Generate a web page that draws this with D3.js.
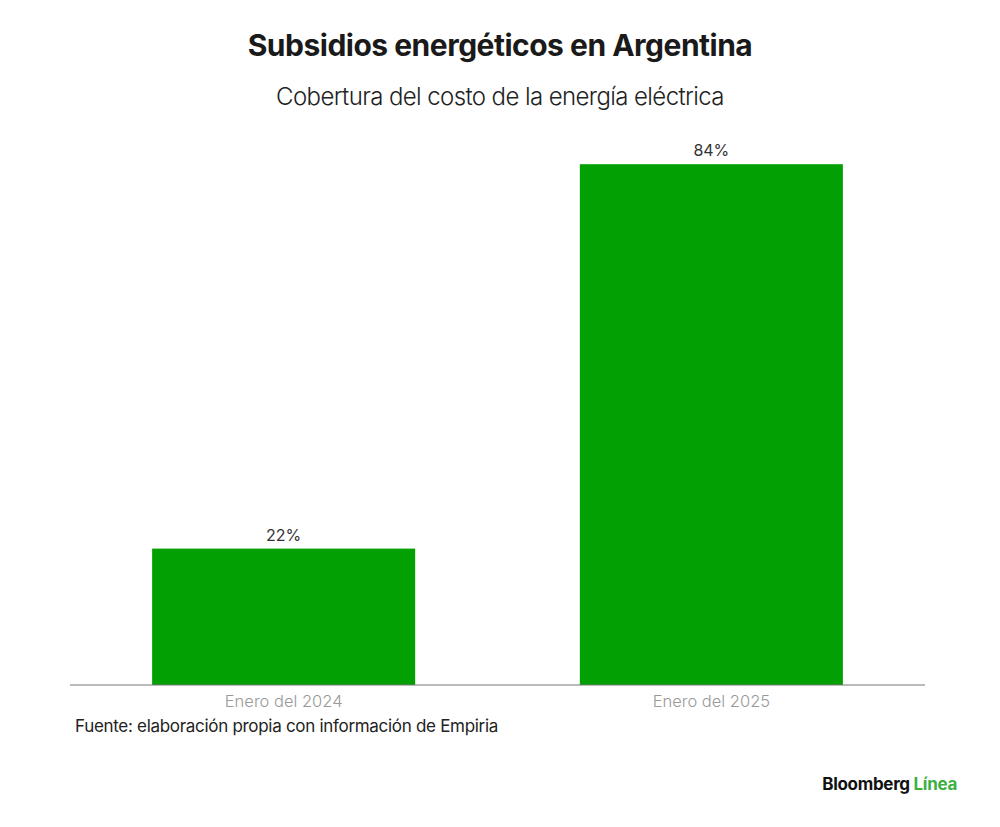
<!DOCTYPE html>
<html>
<head>
<meta charset="utf-8">
<script src="https://cdn.jsdelivr.net/npm/d3@7"></script>
<style>
  body { margin: 0; background: #fff; }
  text { font-family: Inter, "Noto Sans", sans-serif; }
</style>
</head>
<body>
<div id="chart"></div>
<script>
// Chart data
const categories = ["Enero del 2024", "Enero del 2025"];
const values = [22, 84];
const valueLabels = ["22%", "84%"];

const width = 1000, height = 827;
const svg = d3.select("#chart")
  .append("svg")
  .attr("width", width)
  .attr("height", height);

const baseY = 685;

// Scales
const x = d3.scaleBand()
  .domain(categories)
  .range([70, 925])
  .paddingInner(0.385)
  .paddingOuter(0.192);

const y = d3.scaleLinear()
  .domain([0, 100])
  .range([baseY, baseY - 620]);

// Title + subtitle
svg.append("text")
  .attr("x", 500).attr("y", 56)
  .attr("text-anchor", "middle")
  .style("font-size", "30px")
  .style("font-weight", 700)
  .style("letter-spacing", "-0.5px")
  .attr("fill", "#1a1a1a")
  .text("Subsidios energéticos en Argentina");

svg.append("text")
  .attr("x", 500).attr("y", 105)
  .attr("text-anchor", "middle")
  .style("font-size", "24px")
  .style("font-weight", 300)
  .style("letter-spacing", "-0.6px")
  .attr("fill", "#222")
  .text("Cobertura del costo de la energía eléctrica");

// Bars
svg.append("g")
  .selectAll("rect")
  .data(values)
  .join("rect")
  .attr("x", (d, i) => x(categories[i]))
  .attr("y", d => y(d))
  .attr("width", x.bandwidth())
  .attr("height", d => baseY - y(d))
  .attr("fill", "#02a002");

// Value labels
svg.append("g")
  .selectAll("text")
  .data(values)
  .join("text")
  .attr("x", (d, i) => x(categories[i]) + x.bandwidth() / 2)
  .attr("y", d => y(d) - 8)
  .attr("text-anchor", "middle")
  .style("font-size", "16px")
  .attr("fill", "#333")
  .text((d, i) => valueLabels[i]);

// Axis
const axis = svg.append("g")
  .attr("transform", `translate(0,${baseY})`)
  .call(d3.axisBottom(x).tickSize(0).tickPadding(10));
axis.select(".domain")
  .attr("d", "M70,0H925")
  .attr("stroke", "#777")
  .attr("stroke-width", 1.2);
axis.selectAll(".tick text")
  .style("font-family", "Inter, 'Noto Sans', sans-serif")
  .style("font-size", "16.5px")
  .style("font-weight", 300)
  .attr("fill", "#999");

// Source
svg.append("text")
  .attr("x", 75).attr("y", 732)
  .style("font-size", "17px")
  .style("letter-spacing", "-0.3px")
  .attr("fill", "#222")
  .text("Fuente: elaboración propia con información de Empiria");

// Logo
const logo = svg.append("text")
  .attr("x", 957).attr("y", 790)
  .attr("text-anchor", "end")
  .style("font-size", "17px")
  .style("font-weight", 700)
  .style("letter-spacing", "-0.3px");
logo.append("tspan").attr("fill", "#111").text("Bloomberg ");
logo.append("tspan").attr("fill", "#3cb043").text("Línea");
</script>
</body>
</html>
